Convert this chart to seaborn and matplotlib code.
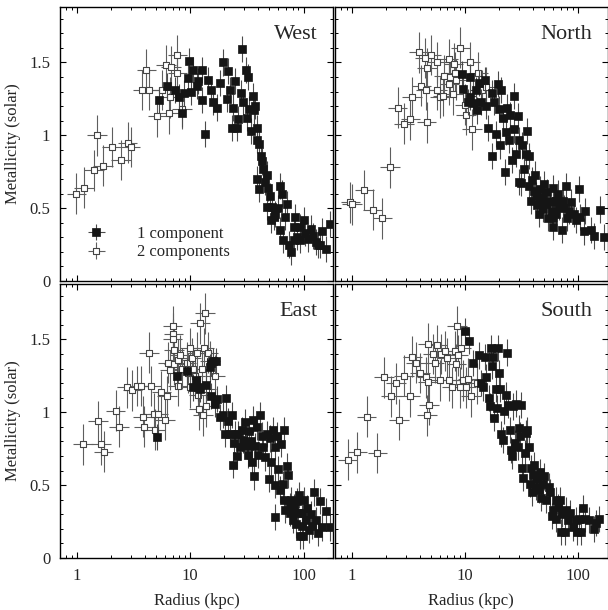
import numpy as np
import matplotlib
matplotlib.use("Agg")
import matplotlib.pyplot as plt
from matplotlib.ticker import FixedLocator, FixedFormatter, MultipleLocator, LogLocator, NullFormatter
from matplotlib.legend_handler import HandlerTuple
import seaborn as sns

# ---- West ----
west_open_r = [0.99, 1.15, 1.42, 1.50, 1.70, 2.03, 2.44, 2.81, 2.98, 3.79, 4.11, 4.37,
               5.13, 5.61, 6.1, 6.5, 6.8, 6.7, 7.7, 7.7, 8.5]
west_open_z = [0.60, 0.64, 0.76, 1.00, 0.79, 0.92, 0.83, 0.95, 0.92, 1.31, 1.45, 1.31,
               1.13, 1.31, 1.48, 1.15, 1.47, 1.26, 1.55, 1.43, 1.18]
west_r = [5.35, 6.3, 7.3, 7.9, 8.5, 8.8, 9.6, 9.8, 10.5, 10.1, 11.4, 11.8, 12.6, 12.6, 13.5,
          14.5, 15.2, 16.0, 17.1, 18.3, 19.6, 21.0, 21.7, 22.5, 23.3, 24.0, 24.9, 25.7, 26.6,
          27.8, 28.5, 29.5, 31.0, 31.6, 32.6, 33.3, 34.2, 35.6, 36.6, 37.6, 38.6, 39.2, 40.5,
          41.9, 42.8, 44.1, 39.2, 40.8, 45.8, 47.4, 48.4, 47.4, 50.2, 52.7, 51.7, 54.5, 56.3,
          59.2, 61.7, 64.4, 62.2, 65.9, 71.4, 69.2, 74.0, 77.4, 84.1, 81.6, 87.1, 93.0, 101,
          103, 110, 116, 122, 129, 135, 145, 159, 172, 81.6, 93.0, 140]
west_z = [1.24, 1.34, 1.31, 1.26, 1.15, 1.29, 1.39, 1.51, 1.45, 1.30, 1.34, 1.37, 1.45, 1.24, 1.01,
          1.38, 1.31, 1.23, 1.19, 1.36, 1.50, 1.25, 1.44, 1.31, 1.05, 1.19, 1.37, 1.05, 1.11,
          1.29, 1.59, 1.23, 1.45, 1.12, 1.40, 1.18, 1.03, 1.27, 1.17, 1.20, 1.05, 0.97, 0.94,
          0.86, 0.82, 0.77, 0.70, 0.63, 0.68, 0.73, 0.64, 0.51, 0.58, 0.51, 0.42, 0.44, 0.46,
          0.50, 0.65, 0.60, 0.35, 0.28, 0.53, 0.44, 0.25, 0.20, 0.44, 0.37, 0.30, 0.37, 0.42,
          0.33, 0.29, 0.36, 0.31, 0.27, 0.25, 0.34, 0.22, 0.39, 0.28, 0.28, 0.245]

# ---- North ----
north_open_r = [0.97, 1.0, 1.29, 1.53, 1.86, 2.17, 2.54, 2.88, 3.30, 3.39, 3.90, 4.12, 4.41,
                4.50, 4.62, 4.59, 5.04, 5.66, 5.70, 5.98, 6.40, 6.48, 7.17, 7.3, 7.4, 7.8,
                7.95, 8.1, 8.4, 9.1, 10.0, 10.2, 11.1, 11.6, 11.9, 13.0, 14.1, 15.3]
north_open_z = [0.54, 0.525, 0.625, 0.49, 0.43, 0.78, 1.19, 1.08, 1.11, 1.26, 1.57, 1.34, 1.53,
                1.31, 1.46, 1.09, 1.55, 1.50, 1.31, 1.26, 1.27, 1.41, 1.52, 1.35, 1.40, 1.28,
                1.49, 1.43, 1.38, 1.60, 1.21, 1.14, 1.50, 1.04, 1.29, 1.43, 1.31, 1.33]
north_r = [9.5, 9.7, 10.6, 11.1, 11.0, 11.9, 12.4, 12.7, 13.4, 14.0, 14.9, 15.4, 16.0, 17.3,
           17.3, 18.2, 18.8, 19.5, 19.9, 20.4, 20.8, 21.8, 22.7, 23.0, 23.7, 24.6, 24.9, 25.8,
           26.9, 27.3, 28.2, 29.2, 29.8, 30.2, 31.0, 32.2, 33.3, 34.4, 35.6, 36.9, 36.9, 38.2,
           39.5, 40.9, 41.7, 42.3, 43.1, 44.7, 45.9, 47.6, 48.9, 50.0, 51.9, 53.6, 54.7, 56.2,
           58.8, 59.6, 60.5, 61.7, 63.8, 65.9, 67.6, 71.7, 73.0, 75.0, 77.8, 80.3, 83.0, 85.8,
           91.7, 95.0, 101.9, 105, 112, 116, 131, 137, 157, 169, 63.8, 59.6, 45.3]
north_z = [1.42, 1.32, 1.23, 1.40, 1.26, 1.22, 1.31, 1.17, 1.36, 1.23, 1.38, 1.20, 1.05, 0.86,
           1.29, 1.23, 1.01, 1.35, 1.18, 0.93, 1.31, 1.12, 0.75, 1.02, 1.19, 0.97, 1.14, 0.83,
           1.27, 1.04, 0.87, 1.13, 0.97, 0.68, 0.67, 0.93, 0.77, 0.87, 1.03, 0.86, 0.65, 0.55,
           0.69, 0.62, 0.73, 0.59, 0.52, 0.46, 0.63, 0.575, 0.495, 0.665, 0.53, 0.61, 0.43, 0.55,
           0.48, 0.37, 0.64, 0.54, 0.46, 0.60, 0.51, 0.35, 0.55, 0.50, 0.65, 0.43, 0.48, 0.54,
           0.46, 0.42, 0.63, 0.44, 0.34, 0.48, 0.35, 0.31, 0.49, 0.30, 0.55, 0.43, 0.55]

# ---- East ----
east_open_r = [1.13, 1.54, 1.64, 1.72, 2.20, 2.35, 2.77, 3.09, 3.39, 3.71, 3.84, 3.89, 4.31,
               4.54, 4.77, 4.87, 5.21, 5.57, 5.96, 6.26, 6.39, 6.6, 7.0, 7.1, 7.0, 7.16, 7.16,
               7.85, 7.85, 8.1, 8.5, 9.3, 9.6, 9.9, 10.3, 10.6, 11.1, 11.5, 11.8, 12.0, 12.2,
               12.6, 13.0, 13.2, 13.5, 13.7, 13.9, 14.4, 14.9, 16.5, 9.9]
east_open_z = [0.78, 0.94, 0.78, 0.73, 1.01, 0.90, 1.17, 1.15, 1.18, 1.18, 0.97, 0.90, 1.41,
               1.18, 0.99, 0.88, 0.99, 1.14, 0.95, 1.11, 1.34, 1.29, 1.59, 1.54, 1.50, 1.43, 1.33,
               1.18, 1.36, 1.39, 1.30, 1.34, 1.27, 1.44, 1.37, 1.30, 1.25, 1.41, 1.12, 1.02, 1.61,
               1.30, 0.98, 1.44, 1.68, 1.04, 1.16, 1.41, 1.35, 1.25, 1.17]
east_r = [5.14, 7.7, 9.3, 10.5, 11.2, 11.8, 12.3, 13.7, 15.1, 15.4, 16.0, 16.8, 15.4, 16.5, 17.2,
          18.3, 19.6, 20.7, 20.3, 21.5, 22.5, 23.3, 23.7, 24.3, 24.9, 25.7, 26.6, 27.5, 28.5,
          29.5, 30.6, 31.6, 32.6, 33.3, 34.2, 34.9, 35.6, 36.6, 37.3, 38.6, 40.0, 41.3, 42.8,
          44.1, 45.8, 47.4, 49.1, 50.6, 51.7, 53.9, 55.6, 56.3, 58.3, 59.2, 61.7, 63.3, 65.9,
          67.5, 56.3, 66.7, 69.2, 71.4, 72.4, 75.7, 77.4, 80.7, 82.8, 86.2, 88.5, 91.8, 93.0,
          96.4, 99.5, 101, 105, 108, 112, 116, 120, 123, 129, 135, 141, 147, 159, 170, 96.4,
          76.5, 87.0]
east_z = [0.83, 1.25, 1.28, 1.17, 1.22, 1.17, 1.16, 1.19, 1.31, 1.34, 1.35, 1.35, 1.11, 1.06, 1.09,
          0.97, 0.98, 1.10, 0.85, 0.94, 0.85, 0.98, 0.64, 0.79, 0.85, 0.70, 0.85, 0.76, 0.88,
          0.81, 0.93, 0.77, 0.71, 0.87, 0.80, 0.66, 0.95, 0.56, 0.77, 0.90, 0.71, 0.98, 0.84,
          0.76, 0.69, 0.85, 0.54, 0.82, 0.66, 0.88, 0.76, 0.50, 0.84, 0.61, 0.47, 0.78, 0.51,
          0.88, 0.28, 0.40, 0.33, 0.63, 0.57, 0.31, 0.40, 0.26, 0.35, 0.23, 0.31, 0.43, 0.15,
          0.22, 0.15, 0.40, 0.26, 0.34, 0.19, 0.30, 0.22, 0.45, 0.26, 0.17, 0.39, 0.21, 0.32,
          0.21, 0.31, 0.355, 0.39]

# ---- South ----
south_open_r = [0.92, 1.12, 1.35, 1.68, 1.92, 2.22, 2.45, 2.62, 2.88, 3.25, 3.43, 3.68, 3.99,
                4.56, 4.73, 4.73, 4.82, 4.62, 5.24, 5.40, 5.66, 5.98, 6.2, 6.7, 6.9, 7.3, 7.7,
                8.1, 8.4, 8.5, 8.7, 9.3, 9.1, 9.7, 10.2, 10.6, 11.3, 12.7]
south_open_z = [0.675, 0.725, 0.97, 0.72, 1.24, 1.11, 1.20, 0.95, 1.25, 1.11, 1.38, 1.34, 1.27,
                1.24, 1.47, 1.21, 1.05, 0.98, 1.40, 1.34, 1.46, 1.22, 1.40, 1.42, 1.37, 1.22, 1.17,
                1.42, 1.33, 1.59, 1.39, 1.44, 1.17, 1.22, 1.17, 1.23, 1.11, 1.20]
south_r = [10.0, 10.8, 11.8, 13.3, 13.9, 14.3, 14.9, 15.4, 16.2, 16.6, 17.0, 17.3, 17.8, 18.2,
           18.8, 19.1, 19.6, 20.1, 20.4, 20.8, 21.5, 22.2, 22.9, 23.7, 24.1, 24.9, 25.4, 26.3,
           26.6, 27.7, 28.5, 29.2, 29.8, 30.6, 31.2, 31.9, 32.9, 33.8, 34.6, 35.7, 36.5, 37.4,
           38.4, 39.2, 40.1, 41.0, 42.4, 43.0, 44.8, 46.0, 47.0, 48.7, 50.3, 52.0, 55.0, 56.5,
           59.0, 60.6, 63.2, 66.3, 69.4, 70.2, 72.8, 77.3, 81.0, 85.2, 90.5, 94.9, 98.0, 102,
           107, 110, 116, 125, 138, 144, 154, 64.0, 78.6]
south_z = [1.56, 1.49, 1.34, 1.39, 1.20, 1.17, 1.38, 1.24, 1.10, 1.04, 1.44, 1.32, 1.38, 0.96,
           1.16, 1.03, 1.44, 1.27, 1.16, 0.85, 0.81, 1.01, 1.12, 1.41, 1.05, 0.88, 0.74, 0.70,
           1.04, 0.79, 1.06, 0.76, 0.89, 0.84, 1.05, 0.62, 0.55, 0.72, 0.86, 0.88, 0.76, 0.51,
           0.62, 0.45, 0.57, 0.64, 0.49, 0.54, 0.47, 0.59, 0.41, 0.51, 0.56, 0.40, 0.49, 0.45,
           0.29, 0.33, 0.27, 0.35, 0.40, 0.18, 0.30, 0.18, 0.26, 0.31, 0.21, 0.26, 0.18, 0.27,
           0.18, 0.34, 0.27, 0.26, 0.20, 0.24, 0.27, 0.40, 0.33]

# typical error bars (radial bin width as a fraction, metallicity error in solar units)
one_comp_xfrac = 0.05
one_comp_zerr = 0.09
two_comp_xfrac = 0.22
two_comp_zerr = 0.14

sns.set_theme(style="ticks")
plt.rcParams['font.family'] = ['Liberation Serif', 'DejaVu Serif']
plt.rcParams['axes.edgecolor'] = 'black'
plt.rcParams['axes.linewidth'] = 1.0


def draw_panel(ax, name, r1, z1, r2, z2):
    r1, z1, r2, z2 = map(np.asarray, (r1, z1, r2, z2))
    # 2 component fits (open squares)
    eb2 = ax.errorbar(r2, z2, xerr=[r2 - r2 / (1 + two_comp_xfrac), r2 * two_comp_xfrac],
                      yerr=two_comp_zerr, fmt='none', ecolor='#5e5e5e', elinewidth=0.8, zorder=1)
    sns.scatterplot(x=r2, y=z2, marker='s', s=22, color='white', edgecolor='#444444',
                    linewidth=0.8, ax=ax, zorder=2)
    sc2 = ax.collections[-1]
    # 1 component fits (filled squares)
    eb1 = ax.errorbar(r1, z1, xerr=[r1 - r1 / (1 + one_comp_xfrac), r1 * one_comp_xfrac],
                      yerr=one_comp_zerr, fmt='none', ecolor='#4a4a4a', elinewidth=0.8, zorder=3)
    sns.scatterplot(x=r1, y=z1, marker='s', s=27, color='#151515', edgecolor='#151515',
                    linewidth=0.5, ax=ax, zorder=4)
    sc1 = ax.collections[-1]

    ax.set_xscale('log')
    ax.set_xlim(0.71, 182)
    ax.set_ylim(0, 1.88)
    ax.xaxis.set_major_locator(FixedLocator([1, 10, 100]))
    ax.xaxis.set_major_formatter(FixedFormatter(['1', '10', '100']))
    ax.xaxis.set_minor_locator(LogLocator(subs=np.arange(2, 10)))
    ax.xaxis.set_minor_formatter(NullFormatter())
    ax.yaxis.set_major_locator(FixedLocator([0, 0.5, 1, 1.5]))
    ax.yaxis.set_major_formatter(FixedFormatter(['0', '0.5', '1', '1.5']))
    ax.yaxis.set_minor_locator(MultipleLocator(0.1))
    ax.tick_params(which='both', direction='in', top=True, right=True, color='black',
                   labelsize=12, pad=7)
    ax.tick_params(which='major', length=4.5, width=0.8)
    ax.tick_params(which='minor', length=2.5, width=0.7)
    ax.text(0.945, 0.90, name, transform=ax.transAxes, ha='right', va='center', fontsize=16)
    return (eb1, sc1), (eb2, sc2)


fig = plt.figure(figsize=(6.08, 6.10), dpi=100)
lx, rx = 60 / 608, 335 / 608
wl, wr = 273 / 608, 272.5 / 608
ty, by = 1 - 281 / 610, 1 - 558 / 610
h = 274 / 610

ax_w = fig.add_axes([lx, ty, wl, h])
ax_n = fig.add_axes([rx, ty, wr, h])
ax_e = fig.add_axes([lx, by, wl, h])
ax_s = fig.add_axes([rx, by, wr, h])

h1, h2 = draw_panel(ax_w, 'West', west_r, west_z, west_open_r, west_open_z)
draw_panel(ax_n, 'North', north_r, north_z, north_open_r, north_open_z)
draw_panel(ax_e, 'East', east_r, east_z, east_open_r, east_open_z)
draw_panel(ax_s, 'South', south_r, south_z, south_open_r, south_open_z)

for ax in (ax_w, ax_n):
    ax.tick_params(labelbottom=False)
for ax in (ax_n, ax_s):
    ax.tick_params(labelleft=False)
for ax in (ax_w, ax_e):
    ax.set_ylabel('Metallicity (solar)', fontsize=12, labelpad=6)
for ax in (ax_e, ax_s):
    ax.set_xlabel('Radius (kpc)', fontsize=12, labelpad=7)

ax_w.legend([h1, h2], ['1 component', '2 components'],
            handler_map={tuple: HandlerTuple(ndivide=1)},
            loc='lower left', bbox_to_anchor=(0.10, 0.075), frameon=False,
            fontsize=12, handlelength=1.1, handletextpad=1.9, labelspacing=0.15,
            borderpad=0, borderaxespad=0, scatterpoints=1, scatteryoffsets=[0.5])

fig.savefig('out.png', dpi=100)
